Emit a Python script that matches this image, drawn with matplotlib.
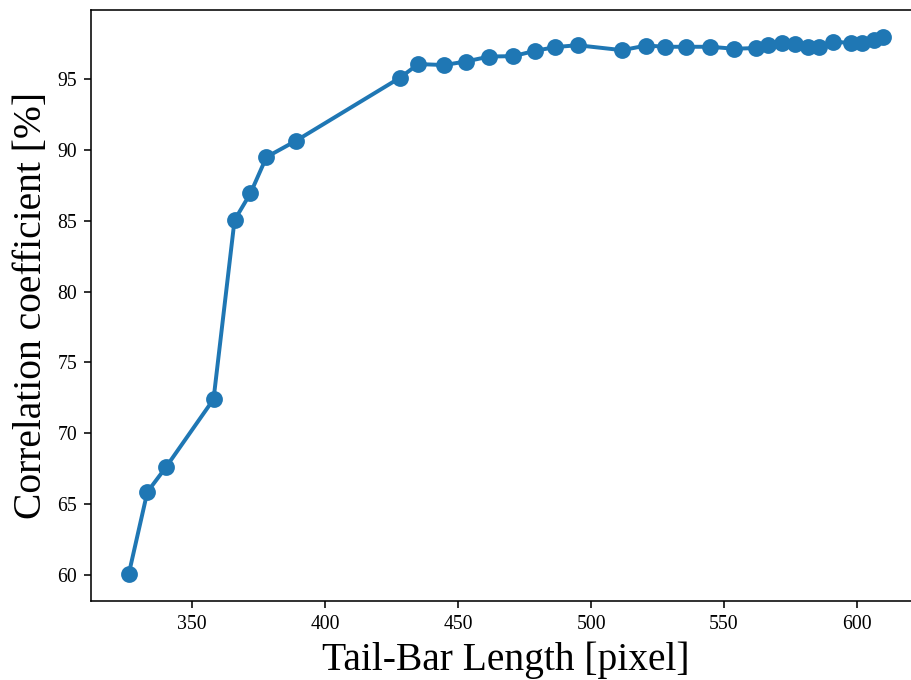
import matplotlib
matplotlib.use('Agg')
import matplotlib.pyplot as plt

# tail-bar length [pixel] vs correlation coefficient [%]
tail_len = [326.1, 333.1, 340.1, 358.0, 365.9, 371.9, 377.9, 389.0, 428.1,
            435.0, 444.7, 452.9, 461.7, 470.8, 478.8, 486.6, 494.9, 511.7,
            520.8, 527.8, 535.7, 544.9, 553.8, 561.9, 566.7, 571.8, 576.8,
            581.7, 585.9, 590.9, 597.7, 601.8, 606.6, 609.9]
corr = [60.05, 65.85, 67.6, 72.4, 85.05, 86.95, 89.5, 90.65, 95.1,
        96.07, 96.0, 96.25, 96.6, 96.63, 97.0, 97.27, 97.4, 97.05,
        97.38, 97.29, 97.29, 97.29, 97.15, 97.2, 97.43, 97.55, 97.48,
        97.27, 97.24, 97.64, 97.57, 97.59, 97.78, 97.99]

DPI = 142.3
plt.rcParams['font.family'] = ['Liberation Serif', 'DejaVu Serif']

fig = plt.figure(figsize=(911 / DPI, 680 / DPI), dpi=DPI)
ax = fig.add_axes([91 / 911, 79 / 680, 830 / 911, 591 / 680])

ax.plot(tail_len, corr, '-o', color='#1f77b4', linewidth=2, markersize=7.5)

ax.set_xticks([350, 400, 450, 500, 550, 600])
ax.set_yticks([60, 65, 70, 75, 80, 85, 90, 95])
ax.tick_params(labelsize=10)
ax.set_xlabel('Tail-Bar Length [pixel]', fontsize=20)
ax.set_ylabel('Correlation coefficient [%]', fontsize=20)

fig.savefig('out.png', dpi=DPI)
